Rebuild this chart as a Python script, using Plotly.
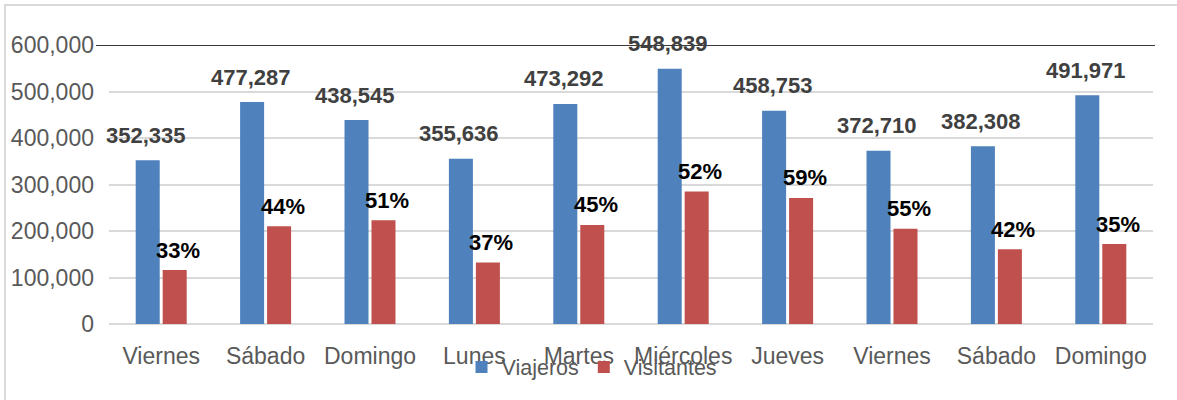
import plotly.graph_objects as go

days = ["Viernes", "Sábado", "Domingo", "Lunes", "Martes", "Miércoles",
        "Jueves", "Viernes", "Sábado", "Domingo"]
viajeros = [352335, 477287, 438545, 355636, 473292, 548839, 458753, 372710, 382308, 491971]
visitantes = [116000, 210000, 223000, 132000, 213000, 285000, 271000, 205000, 161000, 172000]
pct_labels = ["33%", "44%", "51%", "37%", "45%", "52%", "59%", "55%", "42%", "35%"]
y_ticks = [0, 100000, 200000, 300000, 400000, 500000, 600000]

BLUE = "#4f81bd"
RED = "#c0504d"
GRAY_TXT = "#595959"
LABEL_FONT = "Liberation Sans, Arial, sans-serif"
BASE_FONT = "Liberation Sans, Arial, sans-serif"

W, H = 1177, 400
L, R, T, B = 109, 24, 45, 76
PW, PH = W - L - R, H - T - B

x = list(range(len(days)))

fig = go.Figure()
fig.add_trace(go.Bar(x=x, y=viajeros, name="Viajeros", marker_color=BLUE,
                     marker_line_width=0))
fig.add_trace(go.Bar(x=x, y=visitantes, name="Visitantes", marker_color=RED,
                     marker_line_width=0))

annotations = []
for i, v in enumerate(viajeros):
    annotations.append(dict(x=i, y=v, xref="x", yref="y", text=f"{v:,}",
                            showarrow=False, xshift=-15, yshift=25,
                            yanchor="middle", xanchor="center",
                            font=dict(family=LABEL_FONT, size=22, color="#404040",
                                      weight="bold")))
for i, (v, t) in enumerate(zip(visitantes, pct_labels)):
    annotations.append(dict(x=i, y=v, xref="x", yref="y", text=t,
                            showarrow=False, xshift=17, yshift=20,
                            yanchor="middle", xanchor="center",
                            font=dict(family=LABEL_FONT, size=22, color="#000000",
                                      weight="bold")))

def px_to_paper_x(px):
    return (px - L) / PW

def px_to_paper_y(py):
    return (H - B - py) / PH

shapes = [
    # chart border
    dict(type="rect", xref="paper", yref="paper",
         x0=px_to_paper_x(5), x1=px_to_paper_x(1185),
         y0=px_to_paper_y(410), y1=px_to_paper_y(5),
         line=dict(color="#d9d9d9", width=2), fillcolor="rgba(0,0,0,0)", layer="below"),
    # dark top line at axis max
    dict(type="line", xref="paper", yref="y",
         x0=px_to_paper_x(96), x1=px_to_paper_x(1155), y0=y_ticks[-1], y1=y_ticks[-1],
         line=dict(color="#3a3a3a", width=2), layer="above"),
]

fig.update_layout(
    width=W, height=H,
    margin=dict(l=L, r=R, t=T, b=B, pad=0, autoexpand=False),
    paper_bgcolor="white", plot_bgcolor="white",
    barmode="group", bargap=0.483, bargroupgap=0.11,
    font=dict(family=BASE_FONT, color=GRAY_TXT),
    showlegend=True,
    legend=dict(orientation="h", x=px_to_paper_x(592), xanchor="center",
                y=px_to_paper_y(367), yanchor="middle",
                font=dict(size=21.5, color=GRAY_TXT, family=BASE_FONT),
                bgcolor="rgba(0,0,0,0)", itemwidth=30, tracegroupgap=0),
    xaxis=dict(tickmode="array", tickvals=x, ticktext=days,
               range=[-0.5, len(days) - 0.5], automargin=False,
               showgrid=False, zeroline=False, showline=False, ticks="",
               tickfont=dict(size=23, color=GRAY_TXT), ticklabelstandoff=16),
    yaxis=dict(range=[0, y_ticks[-1]], tickmode="array", tickvals=y_ticks,
               tickformat=",d", showgrid=True, gridcolor="#d9d9d9", gridwidth=2,
               zeroline=True, zerolinecolor="#d9d9d9", zerolinewidth=2,
               showline=False, ticks="", automargin=False,
               tickfont=dict(size=23, color=GRAY_TXT), ticklabelstandoff=14),
    annotations=annotations,
    shapes=shapes,
)

fig.write_html("out.html", config={"displayModeBar": False},
               post_script="document.body.style.margin='0';document.body.style.overflow='hidden';")
